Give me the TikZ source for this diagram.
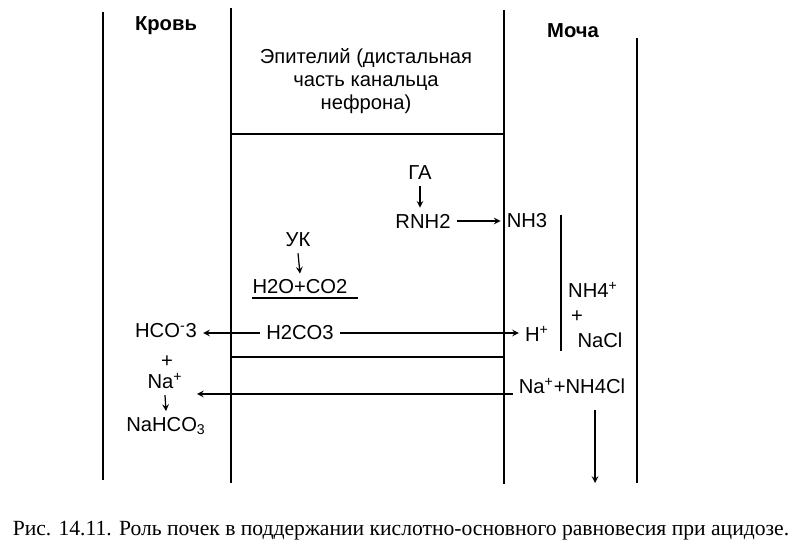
\documentclass[tikz,border=0pt]{standalone}
\usepackage{fontspec}
\setmainfont{Liberation Sans}
\newfontfamily\capfont{Liberation Serif}
\usetikzlibrary{arrows.meta}
\tikzset{lbl/.style={font=\fontsize{11.5}{13}\selectfont},
wall/.style={line width=1.1pt},
thin/.style={line width=0.7pt}}

\begin{document}
\begin{tikzpicture}[>=stealth]
\useasboundingbox(0,0)rectangle(16,10.86);
%% walls
\draw[wall](2.06,10.62)--(2.06,1.26)
(4.62,10.70)--(4.62,1.20)
(10.08,10.66)--(10.08,1.18)
(12.74,10.10)--(12.74,1.20);
\draw[thin](4.62,8.18)--(10.08,8.18)
(4.62,3.72)--(10.08,3.72);
%% headings
\node[lbl,font=\fontsize{11.5}{13}\bfseries](krov)at(3.32,10.34){Кровь};
\node[lbl,font=\fontsize{11.5}{13}\bfseries](mocha)at(11.46,10.24){Моча};
\node[lbl,align=center](epit)at(7.32,9.24){Эпителий (дистальная\\часть канальца\\нефрона)};
%% epithelium
\node[lbl](ga)at(8.4,7.4){ГА};
\node[lbl](rnh)at(8.46,6.44){RNH2};
\node[lbl](uk)at(5.96,6.06){УК};
\node[lbl](hoco)at(6.0,5.12){H2O+CO2};
\node[lbl](hcarb)at(6.0,4.2){H2CO3};
\draw[thin](5.04,4.9)--(7.16,4.9);
%% blood
\node[lbl](hcotri)at(3.32,4.24){HCO\textsuperscript{-}3};
\node[lbl](plusB)at(3.34,3.62){+};
\node[lbl](naplus)at(3.3,3.24){Na\textsuperscript{+}};
\node[lbl](nahco)at(3.32,2.34){NaHCO\textsubscript{3}};
\coordinate(naend)at(3.94,2.98);
%% urine
\node[lbl](nhtri)at(10.54,6.44){NH3};
\node[lbl](hplus)at(10.74,4.18){H\textsuperscript{+}};
\node[lbl](nhfour)at(11.86,5.06){NH4\textsuperscript{+}};
\node[lbl](plusA)at(11.54,4.52){+};
\node[lbl](nacl)at(12.0,4.06){NaCl};
\node[lbl](nanh)at(11.44,3.14){Na\textsuperscript{+}+NH4Cl};
\draw[thin](11.22,6.56)--(11.22,3.84);
%% arrows
\draw[thin,->](ga.south)--(ga.south|-rnh.north);
\draw[thin,->](rnh.east)--(nhtri.west);
\draw[thin,->](uk.south)--(hoco.north);
\draw[thin,->](hcarb.west)--(hcarb.west-|hcotri.east);
\draw[thin,->](hcarb.east)--(hcarb.east-|hplus.west);
\draw[thin,->](naplus.south)--(nahco.north);
\draw[thin,->](nanh.west|-naend)--(naend);
\draw[thin,->](11.9,2.66)--(11.9,1.2);
%% caption
\node[font=\capfont\fontsize{12.3}{14}\selectfont,anchor=base](capt)at(8.02,0.14){Рис. 14.11. Роль почек в поддержании кислотно-основного равновесия при ацидозе.};
\end{tikzpicture}
\end{document}
